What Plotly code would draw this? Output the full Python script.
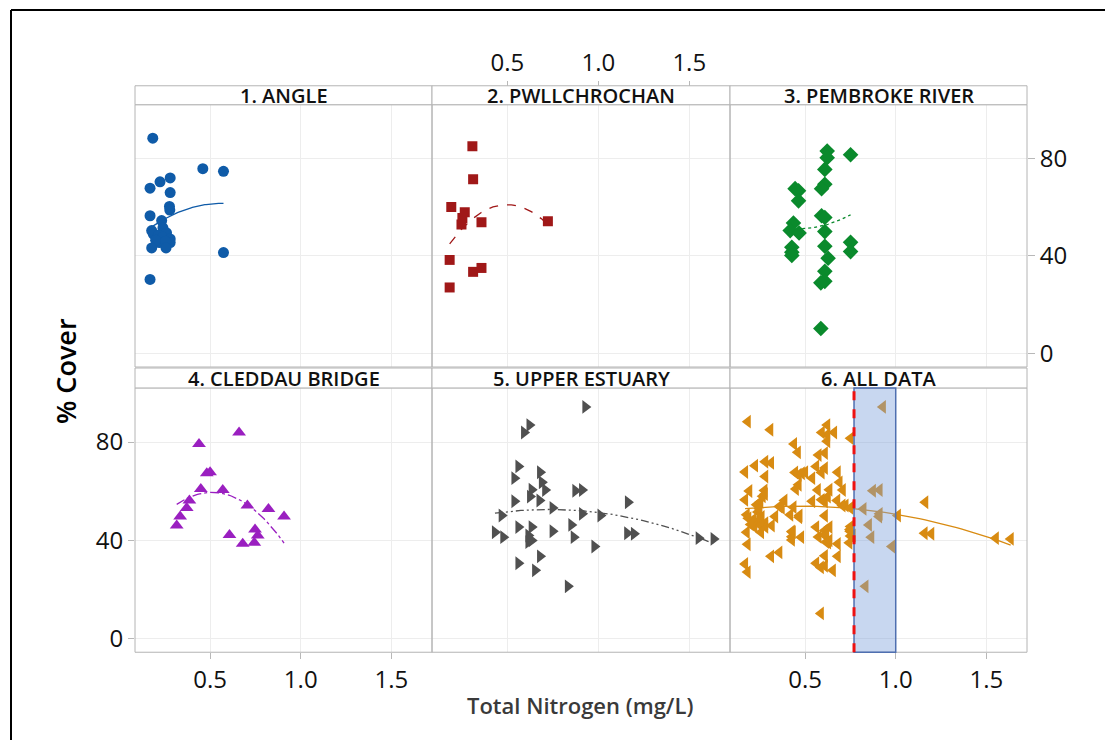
import numpy as np
import plotly.graph_objects as go

# ---------------- data ----------------
panel_titles = ["1. ANGLE", "2. PWLLCHROCHAN", "3. PEMBROKE RIVER",
                "4. CLEDDAU BRIDGE", "5. UPPER ESTUARY", "6. ALL DATA"]

angle_x = [0.184, 0.46, 0.574, 0.224, 0.28, 0.169, 0.28, 0.276, 0.278, 0.169, 0.233,
           0.178, 0.187, 0.24, 0.26, 0.215, 0.24, 0.28, 0.22, 0.28, 0.2, 0.255,
           0.178, 0.257, 0.574, 0.169]
angle_y = [88.3, 75.8, 74.7, 70.4, 72.0, 67.8, 66.0, 60.3, 58.8, 56.5, 54.5,
           50.4, 49.0, 51.5, 49.5, 48.5, 47.8, 47.0, 45.5, 45.5, 46.5, 46.0,
           43.3, 43.3, 41.4, 30.4]

pwll_x = [0.308, 0.312, 0.192, 0.266, 0.253, 0.248, 0.358, 0.723, 0.183, 0.312, 0.358, 0.183]
pwll_y = [85.0, 71.5, 60.1, 57.9, 55.6, 52.9, 53.8, 54.2, 38.4, 33.5, 35.1, 27.1]

pemb_x = [0.622, 0.622, 0.751, 0.609, 0.609, 0.591, 0.445, 0.464, 0.464, 0.591, 0.609,
          0.436, 0.418, 0.467, 0.609, 0.609, 0.427, 0.427, 0.427, 0.751, 0.751,
          0.627, 0.609, 0.609, 0.587, 0.587]
pemb_y = [83.0, 80.3, 81.5, 75.5, 69.4, 67.6, 67.6, 66.7, 62.6, 56.5, 55.8,
          53.5, 50.4, 49.4, 50.0, 44.0, 43.6, 41.5, 40.2, 45.6, 41.8,
          39.1, 33.7, 29.6, 29.0, 10.3]

cled_x = [0.66, 0.439, 0.482, 0.5, 0.449, 0.57, 0.386, 0.371, 0.335, 0.316,
          0.706, 0.822, 0.908, 0.748, 0.763, 0.607, 0.68, 0.744]
cled_y = [83.9, 79.2, 67.3, 67.7, 60.9, 60.5, 56.2, 53.2, 49.7, 46.0,
          54.2, 52.8, 49.7, 44.4, 42.0, 42.2, 38.6, 39.0]

upper_x = [0.929, 0.622, 0.592, 0.561, 0.539, 0.680, 0.690, 0.708, 0.634, 0.625,
           0.677, 0.539, 0.874, 0.911, 1.163, 0.749, 0.469, 0.911, 1.012, 0.432,
           0.478, 0.561, 0.634, 0.616, 0.616, 0.634, 0.749, 0.852, 0.865, 0.979,
           1.159, 1.196, 1.552, 1.634, 0.680, 0.561, 0.653, 0.833]
upper_y = [94.3, 86.9, 83.9, 70.1, 65.3, 67.7, 63.6, 60.5, 60.6, 57.8,
           56.2, 55.9, 60.2, 60.5, 55.5, 53.2, 50.1, 50.8, 50.1, 43.3,
           41.3, 45.4, 45.4, 42.0, 39.3, 40.0, 43.7, 46.3, 41.3, 37.5,
           42.9, 42.7, 40.9, 40.6, 33.5, 30.7, 27.8, 21.3]

threshold_tn = 0.77      # red dashed line in panel 6
band_end_tn = 1.0        # right edge of the shaded band

x_ticks = [0.5, 1.0, 1.5]
x_tick_text = ["0.5", "1.0", "1.5"]
y_ticks = [0, 40, 80]
x_range = [0.086, 1.724]
y_range = [-5.5, 102.0]

# ---------------- styling ----------------
FONT = "Open Sans"
W, H = 1105, 742
cols_px = [(135, 432), (432, 730), (730, 1027)]
rows_px = [(105, 368), (389, 654)]
strips_px = [(86, 105), (369, 389)]

def px_x(v):
    return v / W

def px_y(v):
    return 1 - v / H

panels = [
    dict(x=angle_x, y=angle_y, sym="circle", col="#0F5BA8", size=11, dash="solid"),
    dict(x=pwll_x, y=pwll_y, sym="square", col="#A01818", size=10, dash="dash"),
    dict(x=pemb_x, y=pemb_y, sym="diamond", col="#0A8A2C", size=12, dash="dot"),
    dict(x=cled_x, y=cled_y, sym="triangle-up", col="#9A1FC0", size=12, dash="dashdot"),
    dict(x=upper_x, y=upper_y, sym="triangle-right", col="#505050", size=12,
         dash="8px,3px,2px,3px,2px,3px"),
]
all_x = angle_x + pwll_x + pemb_x + cled_x + upper_x
all_y = angle_y + pwll_y + pemb_y + cled_y + upper_y
panels.append(dict(x=all_x, y=all_y, sym="triangle-left", col="#D88B12", size=12,
                   dash="solid"))

fig = go.Figure()
layout = dict(width=W, height=H, margin=dict(l=0, r=0, t=0, b=0),
              paper_bgcolor="white", plot_bgcolor="white", showlegend=False,
              font=dict(family=FONT, color="black"))
shapes = []
annotations = []
TICKFONT = dict(size=24, family=FONT, color="#111111", weight=500)

for i, p in enumerate(panels):
    k = i + 1
    r, c = divmod(i, 3)
    xs = "x" if k == 1 else f"x{k}"
    ys = "y" if k == 1 else f"y{k}"
    xa = "xaxis" if k == 1 else f"xaxis{k}"
    ya = "yaxis" if k == 1 else f"yaxis{k}"

    # quadratic fit line (drawn beneath the markers)
    xv = np.array(p["x"]); yv = np.array(p["y"])
    coef = np.polyfit(xv, yv, 2)
    fx = np.linspace(xv.min(), xv.max(), 60)
    fy = np.polyval(coef, fx)
    fig.add_trace(go.Scatter(x=fx, y=fy, mode="lines", xaxis=xs, yaxis=ys,
                             line=dict(color=p["col"], width=1.3, dash=p["dash"]),
                             hoverinfo="skip"))
    fig.add_trace(go.Scatter(x=p["x"], y=p["y"], mode="markers", xaxis=xs, yaxis=ys,
                             marker=dict(symbol=p["sym"], color=p["col"], size=p["size"],
                                         line=dict(width=0))))

    cx0, cx1 = cols_px[c]
    ry0, ry1 = rows_px[r]
    sy0, sy1 = strips_px[r]

    xaxis = dict(domain=[px_x(cx0), px_x(cx1)], range=x_range, anchor=ys,
                 tickvals=x_ticks, ticktext=x_tick_text,
                 showgrid=True, gridcolor="#ededed", gridwidth=1,
                 zeroline=False, showline=False,
                 ticks="", showticklabels=False, tickfont=TICKFONT)
    yaxis = dict(domain=[px_y(ry1), px_y(ry0)], range=y_range, anchor=xs,
                 tickvals=y_ticks, showgrid=True, gridcolor="#ededed", gridwidth=1,
                 zeroline=False, showline=False, ticks="", showticklabels=False,
                 tickfont=TICKFONT)
    # x tick labels: bottom for cols 1 & 3 (row 2), top for col 2 (row 1)
    if r == 1 and c in (0, 2):
        xaxis.update(ticks="outside", ticklen=6, tickcolor="#b8b8b8",
                     showticklabels=True, side="bottom")
    if r == 0 and c == 1:
        xaxis.update(ticks="outside", ticklen=5, tickcolor="#b8b8b8",
                     showticklabels=True, side="top", anchor="free",
                     position=px_y(strips_px[0][0]))
    if r == 1 and c == 0:
        yaxis.update(ticks="outside", ticklen=6, tickcolor="#b8b8b8",
                     showticklabels=True, side="left")
    if r == 0 and c == 2:
        yaxis.update(ticks="outside", ticklen=7, tickcolor="#b8b8b8",
                     showticklabels=True, side="right")
    layout[xa] = xaxis
    layout[ya] = yaxis

    # panel frame and strip header
    shapes.append(dict(type="rect", xref="paper", yref="paper",
                       x0=px_x(cx0), x1=px_x(cx1), y0=px_y(ry1), y1=px_y(ry0),
                       line=dict(color="#b4b4b4", width=1), layer="above"))
    shapes.append(dict(type="rect", xref="paper", yref="paper",
                       x0=px_x(cx0), x1=px_x(cx1), y0=px_y(sy1), y1=px_y(sy0),
                       line=dict(color="#b4b4b4", width=1), fillcolor="white",
                       layer="above"))
    annotations.append(dict(text=panel_titles[i], xref="paper", yref="paper",
                            x=px_x((cx0 + cx1) / 2), y=px_y((sy0 + sy1) / 2 + 0.5),
                            showarrow=False, xanchor="center", yanchor="middle",
                            font=dict(family=FONT, size=20, color="#111111",
                                      weight=600)))

# shaded band and threshold line in panel 6
shapes.append(dict(type="rect", xref="x6", yref="y6 domain", x0=threshold_tn,
                   x1=band_end_tn, y0=0, y1=1, fillcolor="rgba(125,160,220,0.42)",
                   line=dict(color="#4F6FB0", width=1.5), layer="above"))
shapes.append(dict(type="line", xref="x6", yref="y6 domain", x0=threshold_tn,
                   x1=threshold_tn, y0=0, y1=1,
                   line=dict(color="#EE1111", width=3, dash="dash"), layer="above"))

# outer frame (top and left edges visible)
shapes.append(dict(type="line", xref="paper", yref="paper", x0=px_x(11), x1=1.0,
                   y0=px_y(10), y1=px_y(10), line=dict(color="black", width=2)))
shapes.append(dict(type="line", xref="paper", yref="paper", x0=px_x(11), x1=px_x(11),
                   y0=0, y1=px_y(10), line=dict(color="black", width=2)))

# axis titles
annotations.append(dict(text="% Cover", xref="paper", yref="paper", x=px_x(66),
                        y=px_y(372), showarrow=False, textangle=-90,
                        xanchor="center", yanchor="middle",
                        font=dict(family=FONT, size=27, color="black", weight=600)))
annotations.append(dict(text="Total Nitrogen (mg/L)", xref="paper", yref="paper",
                        x=px_x(580), y=px_y(707), showarrow=False,
                        xanchor="center", yanchor="middle",
                        font=dict(family=FONT, size=22, color="#3a3a3a", weight=600)))

layout["shapes"] = shapes
layout["annotations"] = annotations
fig.update_layout(**layout)
fig.write_html("out.html")
